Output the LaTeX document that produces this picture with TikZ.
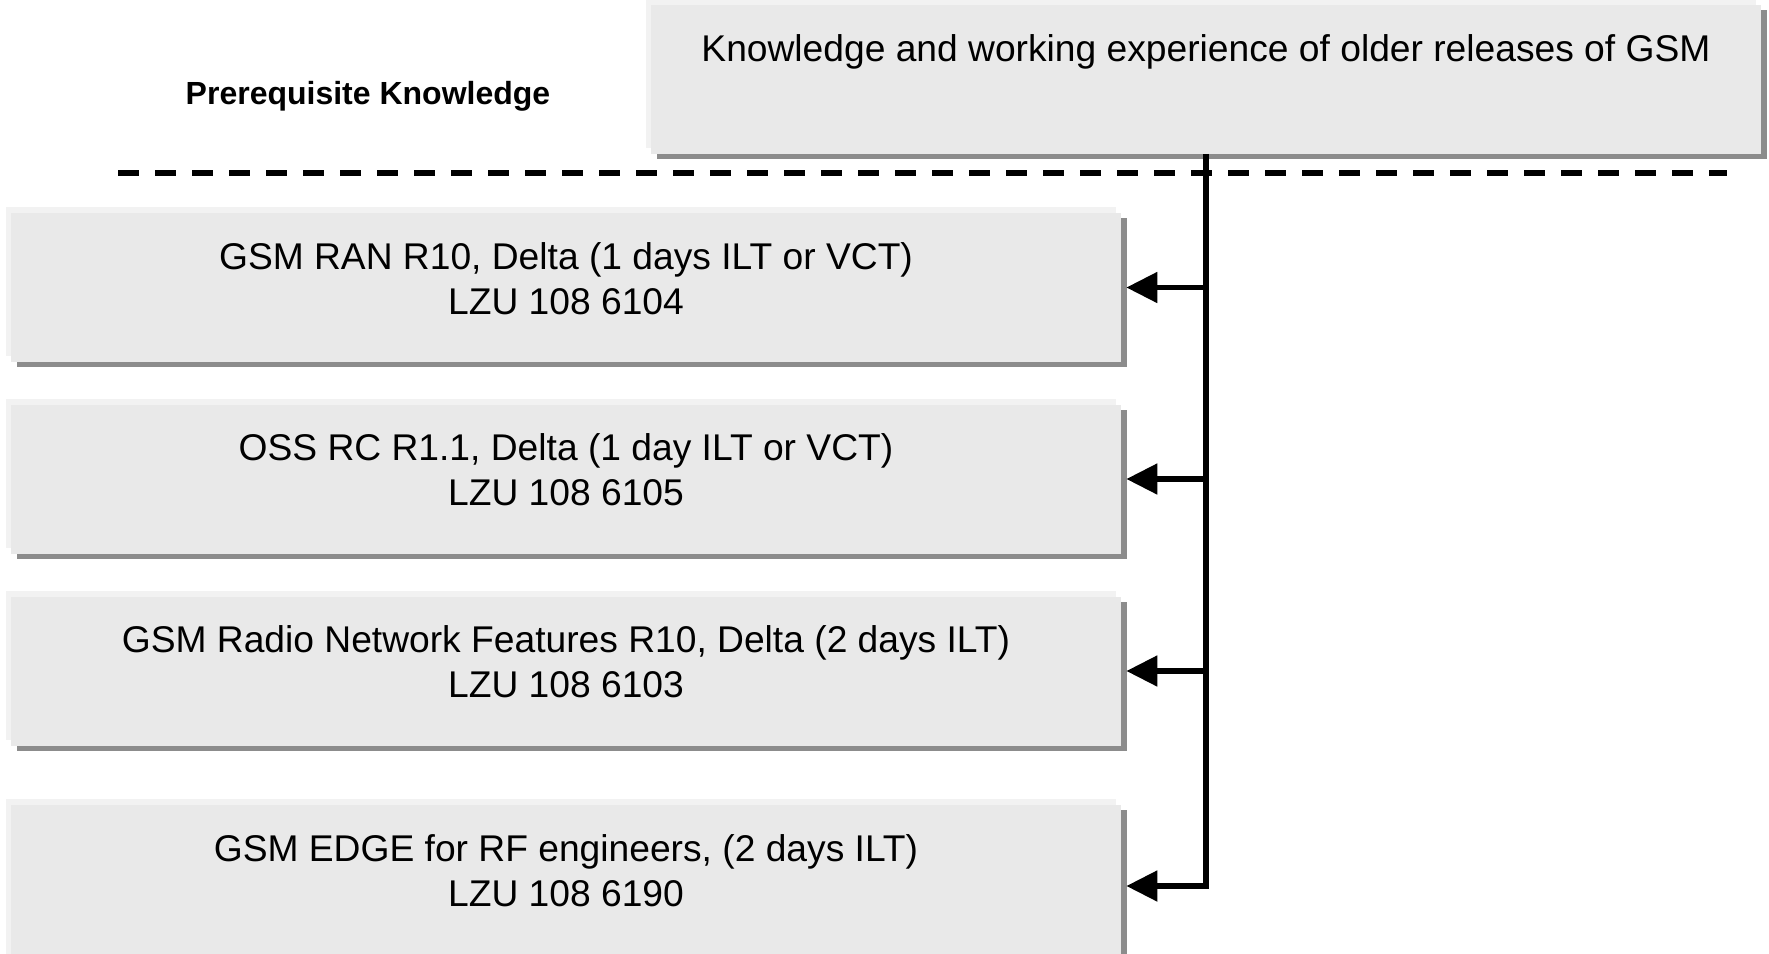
\documentclass[tikz,border=0pt]{standalone}
\usepackage{fontspec}
\setmainfont{Liberation Sans}
\usetikzlibrary{arrows.meta,shadows}

\definecolor{boxfill}{HTML}{E9E9E9}
\definecolor{boxrim}{HTML}{F2F2F2}
\definecolor{boxshade}{HTML}{8C8C8C}

\begin{document}
\begin{tikzpicture}[x=0.5pt,y=-0.5pt,line join=miter,
	coursebox/.style={fill=boxfill, minimum width=555pt, minimum height=74.5pt, inner sep=0pt,
		general shadow={fill=boxrim, shadow xshift=-2.5pt, shadow yshift=3pt},
		general shadow={fill=boxshade, shadow xshift=3pt, shadow yshift=-2.5pt}},
	coursetext/.style={align=center, inner sep=0pt, font=\fontsize{18.6}{22.5}\selectfont},
	feed/.style={line width=2.6pt, -{Triangle[length=15.5pt,width=15pt]}}]
	\path[use as bounding box, clip] (0,0) rectangle (1769,954);
	% boxes
	\node[coursebox] (older) at (1206,79) {};
	\node[coursebox] (ran) at (566,287.5) {};
	\node[coursebox] (oss) at (566,479) {};
	\node[coursebox] (features) at (566,671) {};
	\node[coursebox, minimum height=81pt] (edge) at (566,886) {};
	% texts
	\node[coursetext] (older-text) at ([yshift=13.8pt]older.center) {Knowledge and working experience of older releases of GSM};
	\node[coursetext] (ran-text) at ([yshift=4.5pt]ran.center) {GSM RAN R10, Delta (1 days ILT or VCT)\\LZU 108 6104};
	\node[coursetext] (oss-text) at ([yshift=4.5pt]oss.center) {OSS RC R1.1, Delta (1 day ILT or VCT)\\LZU 108 6105};
	\node[coursetext] (features-text) at ([yshift=4.5pt]features.center) {GSM Radio Network Features R10, Delta (2 days ILT)\\LZU 108 6103};
	\node[coursetext] (edge-text) at ([yshift=7.5pt]edge.center) {GSM EDGE for RF engineers, (2 days ILT)\\LZU 108 6190};
	\node[inner sep=0pt, font=\fontsize{16}{19}\selectfont\bfseries] (prereq) at (368,96) {Prerequisite Knowledge};
	% divider
	\coordinate (divider-left) at (118,173);
	\coordinate (divider-right) at (1727,173);
	\draw[line width=2.6pt, dash pattern=on 10.5pt off 8pt] (divider-left) -- (divider-right);
	% connections
	\draw[feed] (older.south) |- ([xshift=2.5pt]edge.east);
	\draw[feed] (older.south |- ran.east) -- ([xshift=2.5pt]ran.east);
	\draw[feed] (older.south |- oss.east) -- ([xshift=2.5pt]oss.east);
	\draw[feed] (older.south |- features.east) -- ([xshift=2.5pt]features.east);
\end{tikzpicture}
\end{document}
